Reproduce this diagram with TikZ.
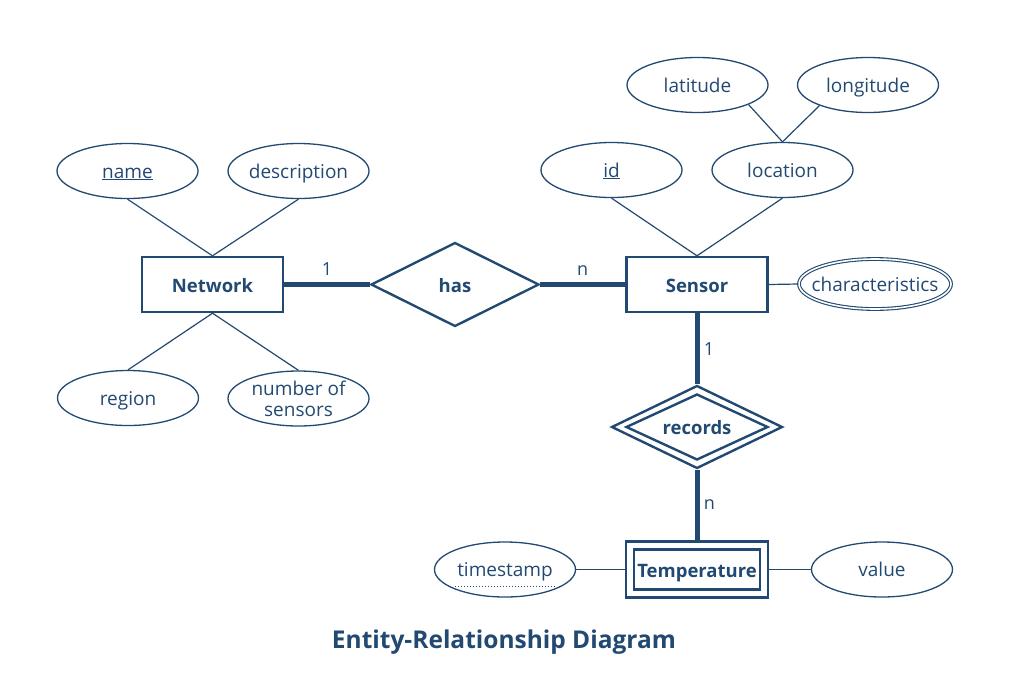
\documentclass[tikz,border=0pt]{standalone}
\usepackage{fontspec}
\setmainfont{Open Sans}
\usetikzlibrary{shapes.geometric}
\definecolor{erblue}{RGB}{34,73,114}
\begin{document}
\begin{tikzpicture}[x=1pt,y=-1pt,
  every node/.style={text=erblue},
  entity/.style={draw=erblue, line width=2.4pt, minimum width=141pt, minimum height=55pt,
    inner sep=0pt, text height=16pt, text depth=1pt, font=\fontsize{18.5}{21}\selectfont\bfseries},
  attr/.style={ellipse, draw=erblue, line width=1.3pt, minimum width=141pt, minimum height=55pt,
    inner sep=0pt, align=center, font=\fontsize{19}{21}\selectfont},
  oneline/.style={text height=15.5pt, text depth=1.5pt},
  rel/.style={diamond, aspect=2, draw=erblue, line width=2.4pt, inner sep=0pt,
    font=\fontsize{18.5}{21}\selectfont\bfseries},
  thin/.style={draw=erblue, line width=1.2pt},
  thick/.style={draw=erblue, line width=5pt},
  card/.style={font=\fontsize{18}{20}\selectfont, text=erblue}
]
\useasboundingbox (0,0) rectangle (1024,678);

% entities
\node[entity] (network) at (212.5,284.5) {Network};
\node[entity] (sensor) at (697,284.5) {Sensor};
\node[entity, minimum width=142pt, minimum height=56pt] (temp) at (697,569.5) {};
\node[entity, minimum width=126pt, minimum height=40pt] (tempin) at (697,569.5) {Temperature};

% relationships
\node[rel, minimum width=168pt, minimum height=84pt, text height=16pt, text depth=1pt] (has) at (455,284.5) {has};
\node[rel, minimum width=171pt, minimum height=83pt] (records) at (697,427) {};
\node[rel, minimum width=142pt, minimum height=66pt, text height=16pt, text depth=1pt] (recordsin) at (697,427) {records};

% attributes
\node[attr, oneline] (name) at (127.5,171) {\underline{name}};
\node[attr, oneline] (description) at (298.5,171) {description};
\node[attr, oneline] (region) at (128,398) {region};
\node[attr] (numsensors) at (298.5,398.5) {number of\\sensors};
\node[attr, oneline] (latitude) at (697.5,85) {latitude};
\node[attr, oneline] (longitude) at (868,85) {longitude};
\node[attr, oneline] (id) at (611.5,170) {\underline{id}};
\node[attr, oneline] (location) at (782.5,170) {location};
\node[attr, oneline, inner xsep=-13pt, minimum width=152pt, minimum height=50pt, double=white, double distance=1.6pt, line width=1.1pt] (characteristics) at (875,284) {characteristics};
\node[attr, oneline] (timestamp) at (505,569.5) {timestamp};
\node[attr, oneline] (value) at (882,569.5) {value};
\draw[erblue, line width=1pt, dotted] ([xshift=-50pt,yshift=-17pt]timestamp.center) -- ([xshift=50pt,yshift=-17pt]timestamp.center);

% title
\node[font=\fontsize{24.5}{28}\selectfont\bfseries] (title) at (504,642) {Entity-Relationship Diagram};

% attribute connectors
\draw[thin] (name.south) -- (network.north);
\draw[thin] (description.south) -- (network.north);
\draw[thin] (network.south) -- (region.north);
\draw[thin] (network.south) -- (numsensors.north);
\draw[thin] (id.south) -- (sensor.north);
\draw[thin] (location.south) -- (sensor.north);
\draw[thin] (latitude.-21) -- (location.north);
\draw[thin] (longitude.-157) -- (location.north);
\draw[thin] (sensor.east) -- (characteristics.west);
\draw[thin] (timestamp.east) -- (temp.west);
\draw[thin] (temp.east) -- (value.west);

% relationship connectors
\draw[thick] (network.east) -- node[card, above=3pt] (c1) {1} (has.west);
\draw[thick] (has.east) -- node[card, above=3pt] (c2) {n} (sensor.west);
\draw[thick] (sensor.south) -- node[card, right=1pt] (c3) {1} (records.north);
\draw[thick] (records.south) -- node[card, right=1pt] (c4) {n} (temp.north);
\end{tikzpicture}
\end{document}
